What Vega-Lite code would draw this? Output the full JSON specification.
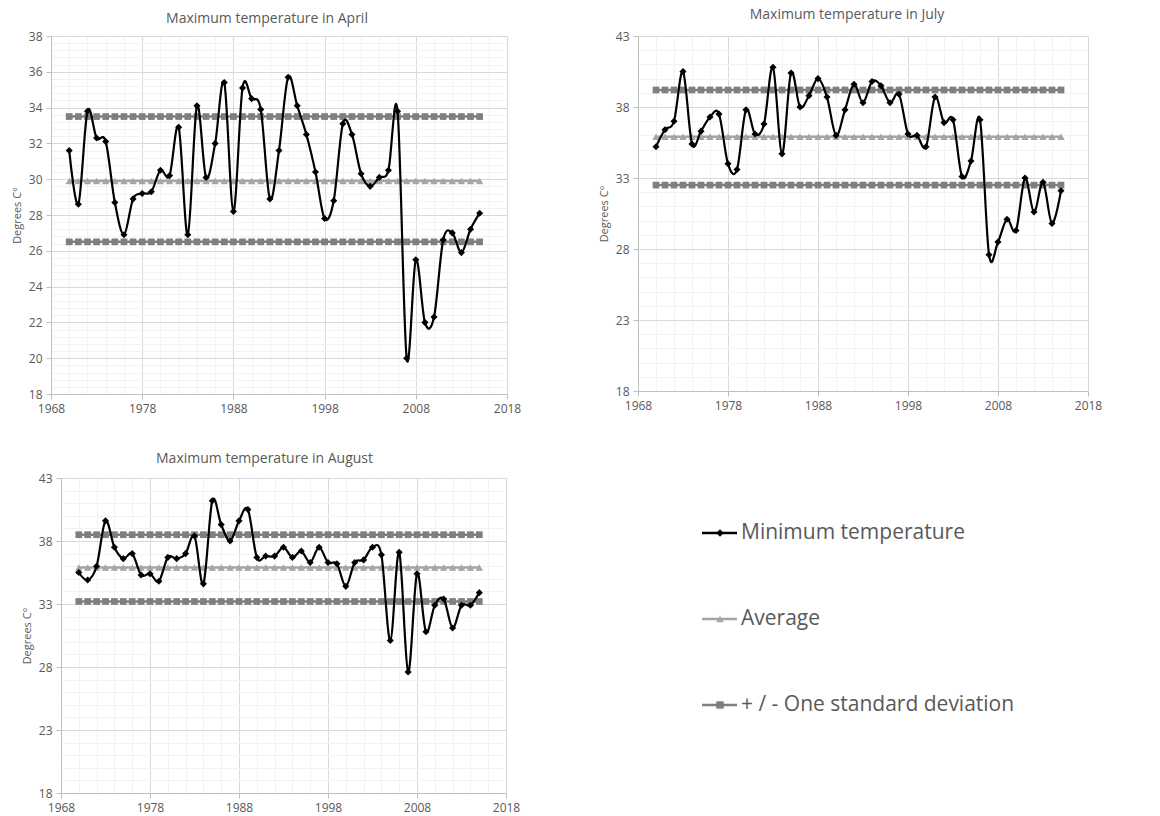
{
  "$schema": "https://vega.github.io/schema/vega-lite/v6.json",
  "background": "white",
  "padding": {"left": 11, "top": 8, "right": 5, "bottom": 4},
  "config": {
    "view": {"stroke": null},
    "font": "Open Sans",
    "title": {"font": "Open Sans", "fontSize": 14, "fontWeight": "normal", "color": "#595959", "anchor": "middle"},
    "axis": {
      "labelFont": "Open Sans", "labelFontSize": 12, "labelColor": "#595959",
      "titleFont": "Open Sans", "titleFontSize": 11, "titleFontWeight": "normal", "titleColor": "#595959",
      "domainColor": "#bfbfbf", "tickColor": "#bfbfbf", "tickSize": 5, "gridWidth": 1,
      "labelOverlap": false, "labelFlush": false, "labelPadding": 4
    }
  },
  "datasets": {
    "stats": [
      {"month": "April", "avg": 29.9, "hi": 33.5, "lo": 26.5},
      {"month": "July", "avg": 35.9, "hi": 39.2, "lo": 32.5},
      {"month": "August", "avg": 35.9, "hi": 38.5, "lo": 33.2}
    ],
    "temps": [
      {"month": "April", "year": 1970, "temp": 31.6}, {"month": "April", "year": 1971, "temp": 28.6},
      {"month": "April", "year": 1972, "temp": 33.8}, {"month": "April", "year": 1973, "temp": 32.3},
      {"month": "April", "year": 1974, "temp": 32.1}, {"month": "April", "year": 1975, "temp": 28.7},
      {"month": "April", "year": 1976, "temp": 26.9}, {"month": "April", "year": 1977, "temp": 28.9},
      {"month": "April", "year": 1978, "temp": 29.2}, {"month": "April", "year": 1979, "temp": 29.3},
      {"month": "April", "year": 1980, "temp": 30.5}, {"month": "April", "year": 1981, "temp": 30.2},
      {"month": "April", "year": 1982, "temp": 32.9}, {"month": "April", "year": 1983, "temp": 26.9},
      {"month": "April", "year": 1984, "temp": 34.1}, {"month": "April", "year": 1985, "temp": 30.1},
      {"month": "April", "year": 1986, "temp": 32.0}, {"month": "April", "year": 1987, "temp": 35.4},
      {"month": "April", "year": 1988, "temp": 28.2}, {"month": "April", "year": 1989, "temp": 35.1},
      {"month": "April", "year": 1990, "temp": 34.5}, {"month": "April", "year": 1991, "temp": 33.9},
      {"month": "April", "year": 1992, "temp": 28.9}, {"month": "April", "year": 1993, "temp": 31.6},
      {"month": "April", "year": 1994, "temp": 35.7}, {"month": "April", "year": 1995, "temp": 34.1},
      {"month": "April", "year": 1996, "temp": 32.5}, {"month": "April", "year": 1997, "temp": 30.4},
      {"month": "April", "year": 1998, "temp": 27.8}, {"month": "April", "year": 1999, "temp": 28.8},
      {"month": "April", "year": 2000, "temp": 33.1}, {"month": "April", "year": 2001, "temp": 32.5},
      {"month": "April", "year": 2002, "temp": 30.3}, {"month": "April", "year": 2003, "temp": 29.6},
      {"month": "April", "year": 2004, "temp": 30.1}, {"month": "April", "year": 2005, "temp": 30.5},
      {"month": "April", "year": 2006, "temp": 33.8}, {"month": "April", "year": 2007, "temp": 20.0},
      {"month": "April", "year": 2008, "temp": 25.5}, {"month": "April", "year": 2009, "temp": 22.0},
      {"month": "April", "year": 2010, "temp": 22.3}, {"month": "April", "year": 2011, "temp": 26.6},
      {"month": "April", "year": 2012, "temp": 27.0}, {"month": "April", "year": 2013, "temp": 25.9},
      {"month": "April", "year": 2014, "temp": 27.2}, {"month": "April", "year": 2015, "temp": 28.1},

      {"month": "July", "year": 1970, "temp": 35.2}, {"month": "July", "year": 1971, "temp": 36.4},
      {"month": "July", "year": 1972, "temp": 37.0}, {"month": "July", "year": 1973, "temp": 40.5},
      {"month": "July", "year": 1974, "temp": 35.4}, {"month": "July", "year": 1975, "temp": 36.3},
      {"month": "July", "year": 1976, "temp": 37.3}, {"month": "July", "year": 1977, "temp": 37.5},
      {"month": "July", "year": 1978, "temp": 34.0}, {"month": "July", "year": 1979, "temp": 33.6},
      {"month": "July", "year": 1980, "temp": 37.8}, {"month": "July", "year": 1981, "temp": 36.1},
      {"month": "July", "year": 1982, "temp": 36.8}, {"month": "July", "year": 1983, "temp": 40.8},
      {"month": "July", "year": 1984, "temp": 34.7}, {"month": "July", "year": 1985, "temp": 40.4},
      {"month": "July", "year": 1986, "temp": 38.0}, {"month": "July", "year": 1987, "temp": 38.8},
      {"month": "July", "year": 1988, "temp": 40.0}, {"month": "July", "year": 1989, "temp": 38.7},
      {"month": "July", "year": 1990, "temp": 36.0}, {"month": "July", "year": 1991, "temp": 37.8},
      {"month": "July", "year": 1992, "temp": 39.6}, {"month": "July", "year": 1993, "temp": 38.3},
      {"month": "July", "year": 1994, "temp": 39.8}, {"month": "July", "year": 1995, "temp": 39.5},
      {"month": "July", "year": 1996, "temp": 38.3}, {"month": "July", "year": 1997, "temp": 38.9},
      {"month": "July", "year": 1998, "temp": 36.1}, {"month": "July", "year": 1999, "temp": 36.0},
      {"month": "July", "year": 2000, "temp": 35.2}, {"month": "July", "year": 2001, "temp": 38.7},
      {"month": "July", "year": 2002, "temp": 36.9}, {"month": "July", "year": 2003, "temp": 37.1},
      {"month": "July", "year": 2004, "temp": 33.1}, {"month": "July", "year": 2005, "temp": 34.2},
      {"month": "July", "year": 2006, "temp": 37.1}, {"month": "July", "year": 2007, "temp": 27.6},
      {"month": "July", "year": 2008, "temp": 28.5}, {"month": "July", "year": 2009, "temp": 30.1},
      {"month": "July", "year": 2010, "temp": 29.3}, {"month": "July", "year": 2011, "temp": 33.0},
      {"month": "July", "year": 2012, "temp": 30.6}, {"month": "July", "year": 2013, "temp": 32.7},
      {"month": "July", "year": 2014, "temp": 29.8}, {"month": "July", "year": 2015, "temp": 32.1},

      {"month": "August", "year": 1970, "temp": 35.5}, {"month": "August", "year": 1971, "temp": 34.9},
      {"month": "August", "year": 1972, "temp": 36.0}, {"month": "August", "year": 1973, "temp": 39.6},
      {"month": "August", "year": 1974, "temp": 37.5}, {"month": "August", "year": 1975, "temp": 36.6},
      {"month": "August", "year": 1976, "temp": 37.0}, {"month": "August", "year": 1977, "temp": 35.3},
      {"month": "August", "year": 1978, "temp": 35.4}, {"month": "August", "year": 1979, "temp": 34.8},
      {"month": "August", "year": 1980, "temp": 36.7}, {"month": "August", "year": 1981, "temp": 36.6},
      {"month": "August", "year": 1982, "temp": 37.0}, {"month": "August", "year": 1983, "temp": 38.4},
      {"month": "August", "year": 1984, "temp": 34.6}, {"month": "August", "year": 1985, "temp": 41.2},
      {"month": "August", "year": 1986, "temp": 39.3}, {"month": "August", "year": 1987, "temp": 38.0},
      {"month": "August", "year": 1988, "temp": 39.6}, {"month": "August", "year": 1989, "temp": 40.5},
      {"month": "August", "year": 1990, "temp": 36.7}, {"month": "August", "year": 1991, "temp": 36.8},
      {"month": "August", "year": 1992, "temp": 36.8}, {"month": "August", "year": 1993, "temp": 37.5},
      {"month": "August", "year": 1994, "temp": 36.7}, {"month": "August", "year": 1995, "temp": 37.2},
      {"month": "August", "year": 1996, "temp": 36.3}, {"month": "August", "year": 1997, "temp": 37.5},
      {"month": "August", "year": 1998, "temp": 36.3}, {"month": "August", "year": 1999, "temp": 36.2},
      {"month": "August", "year": 2000, "temp": 34.4}, {"month": "August", "year": 2001, "temp": 36.3},
      {"month": "August", "year": 2002, "temp": 36.5}, {"month": "August", "year": 2003, "temp": 37.5},
      {"month": "August", "year": 2004, "temp": 36.9}, {"month": "August", "year": 2005, "temp": 30.1},
      {"month": "August", "year": 2006, "temp": 37.1}, {"month": "August", "year": 2007, "temp": 27.6},
      {"month": "August", "year": 2008, "temp": 35.4}, {"month": "August", "year": 2009, "temp": 30.8},
      {"month": "August", "year": 2010, "temp": 32.9}, {"month": "August", "year": 2011, "temp": 33.4},
      {"month": "August", "year": 2012, "temp": 31.1}, {"month": "August", "year": 2013, "temp": 32.9},
      {"month": "August", "year": 2014, "temp": 32.9}, {"month": "August", "year": 2015, "temp": 33.9}
    ]
  },
  "data": {"name": "temps"},
  "spacing": 38,
  "columns": 1,
  "align": "none",
  "concat": [
    {
      "spacing": 77,
      "hconcat": [
        {
          "width": 456, "height": 358,
          "title": {"text": "Maximum temperature in April", "offset": 4, "dx": -12},
          "transform": [
            {"filter": "datum.month === 'April'"},
            {"lookup": "month", "from": {"data": {"name": "stats"}, "key": "month", "fields": ["avg", "hi", "lo"]}},
            {"fold": ["temp", "avg", "hi", "lo"], "as": ["series", "value"]}
          ],
          "encoding": {
            "x": {
              "field": "year", "type": "quantitative",
              "scale": {"domain": [1968, 2018], "nice": false, "zero": false},
              "axis": {
                "title": null, "format": "d",
                "values": [1968, 1970, 1972, 1974, 1976, 1978, 1980, 1982, 1984, 1986, 1988, 1990, 1992, 1994, 1996, 1998, 2000, 2002, 2004, 2006, 2008, 2010, 2012, 2014, 2016, 2018],
                "labelExpr": "(datum.value - 1968) % 10 === 0 ? datum.label : ''",
                "gridColor": {"condition": {"test": "(datum.value - 1968) % 10 === 0", "value": "#d9d9d9"}, "value": "#f2f2f2"},
                "tickOpacity": {"condition": {"test": "(datum.value - 1968) % 10 === 0", "value": 1}, "value": 0}
              }
            },
            "y": {
              "field": "value", "type": "quantitative",
              "scale": {"domain": [18, 38], "nice": false, "zero": false},
              "axis": {
                "title": "Degrees C°", "titlePadding": 6, "format": ".0f",
                "values": [18, 18.4, 18.8, 19.2, 19.6, 20, 20.4, 20.8, 21.2, 21.6, 22, 22.4, 22.8, 23.2, 23.6, 24, 24.4, 24.8, 25.2, 25.6, 26, 26.4, 26.8, 27.2, 27.6, 28, 28.4, 28.8, 29.2, 29.6, 30, 30.4, 30.8, 31.2, 31.6, 32, 32.4, 32.8, 33.2, 33.6, 34, 34.4, 34.8, 35.2, 35.6, 36, 36.4, 36.8, 37.2, 37.6, 38],
                "labelExpr": "datum.value % 2 === 0 ? datum.label : ''",
                "gridColor": {"condition": {"test": "datum.value % 2 === 0", "value": "#d9d9d9"}, "value": "#f2f2f2"},
                "tickOpacity": {"condition": {"test": "datum.value % 2 === 0", "value": 1}, "value": 0}
              }
            }
          },
          "layer": [
            {"transform": [{"filter": "datum.series === 'avg'"}], "mark": {"type": "line", "color": "#a5a5a5", "strokeWidth": 2.5}},
            {"transform": [{"filter": "datum.series === 'avg'"}], "mark": {"type": "point", "shape": "triangle-up", "filled": true, "color": "#a5a5a5", "size": 55, "opacity": 1}},
            {"transform": [{"filter": "datum.series === 'hi' || datum.series === 'lo'"}], "mark": {"type": "line", "color": "#7f7f7f", "strokeWidth": 2.5}, "encoding": {"detail": {"field": "series"}}},
            {"transform": [{"filter": "datum.series === 'hi' || datum.series === 'lo'"}], "mark": {"type": "point", "shape": "square", "filled": true, "color": "#7f7f7f", "size": 45, "opacity": 1}},
            {"transform": [{"filter": "datum.series === 'temp'"}], "mark": {"type": "line", "color": "#000000", "strokeWidth": 2.2, "interpolate": "cardinal"}},
            {"transform": [{"filter": "datum.series === 'temp'"}], "mark": {"type": "point", "shape": "diamond", "filled": true, "color": "#000000", "size": 50, "opacity": 1}}
          ]
        },
        {
          "width": 450, "height": 355,
          "title": {"text": "Maximum temperature in July", "offset": 8, "dx": -16},
          "transform": [
            {"filter": "datum.month === 'July'"},
            {"lookup": "month", "from": {"data": {"name": "stats"}, "key": "month", "fields": ["avg", "hi", "lo"]}},
            {"fold": ["temp", "avg", "hi", "lo"], "as": ["series", "value"]}
          ],
          "encoding": {
            "x": {
              "field": "year", "type": "quantitative",
              "scale": {"domain": [1968, 2018], "nice": false, "zero": false},
              "axis": {
                "title": null, "format": "d",
                "values": [1968, 1970, 1972, 1974, 1976, 1978, 1980, 1982, 1984, 1986, 1988, 1990, 1992, 1994, 1996, 1998, 2000, 2002, 2004, 2006, 2008, 2010, 2012, 2014, 2016, 2018],
                "labelExpr": "(datum.value - 1968) % 10 === 0 ? datum.label : ''",
                "gridColor": {"condition": {"test": "(datum.value - 1968) % 10 === 0", "value": "#d9d9d9"}, "value": "#f2f2f2"},
                "tickOpacity": {"condition": {"test": "(datum.value - 1968) % 10 === 0", "value": 1}, "value": 0}
              }
            },
            "y": {
              "field": "value", "type": "quantitative",
              "scale": {"domain": [18, 43], "nice": false, "zero": false},
              "axis": {
                "title": "Degrees C°", "titlePadding": 6,
                "values": [18, 19, 20, 21, 22, 23, 24, 25, 26, 27, 28, 29, 30, 31, 32, 33, 34, 35, 36, 37, 38, 39, 40, 41, 42, 43],
                "labelExpr": "(datum.value - 18) % 5 === 0 ? datum.label : ''",
                "gridColor": {"condition": {"test": "(datum.value - 18) % 5 === 0", "value": "#d9d9d9"}, "value": "#f2f2f2"},
                "tickOpacity": {"condition": {"test": "(datum.value - 18) % 5 === 0", "value": 1}, "value": 0}
              }
            }
          },
          "layer": [
            {"transform": [{"filter": "datum.series === 'avg'"}], "mark": {"type": "line", "color": "#a5a5a5", "strokeWidth": 2.5}},
            {"transform": [{"filter": "datum.series === 'avg'"}], "mark": {"type": "point", "shape": "triangle-up", "filled": true, "color": "#a5a5a5", "size": 55, "opacity": 1}},
            {"transform": [{"filter": "datum.series === 'hi' || datum.series === 'lo'"}], "mark": {"type": "line", "color": "#7f7f7f", "strokeWidth": 2.5}, "encoding": {"detail": {"field": "series"}}},
            {"transform": [{"filter": "datum.series === 'hi' || datum.series === 'lo'"}], "mark": {"type": "point", "shape": "square", "filled": true, "color": "#7f7f7f", "size": 45, "opacity": 1}},
            {"transform": [{"filter": "datum.series === 'temp'"}], "mark": {"type": "line", "color": "#000000", "strokeWidth": 2.2, "interpolate": "cardinal"}},
            {"transform": [{"filter": "datum.series === 'temp'"}], "mark": {"type": "point", "shape": "diamond", "filled": true, "color": "#000000", "size": 50, "opacity": 1}}
          ]
        }
      ]
    },
    {
      "spacing": 20,
      "hconcat": [
        {
          "width": 455, "height": 315,
          "title": {"text": "Maximum temperature in August", "offset": 6, "dx": -14},
          "transform": [
            {"filter": "datum.month === 'August'"},
            {"lookup": "month", "from": {"data": {"name": "stats"}, "key": "month", "fields": ["avg", "hi", "lo"]}},
            {"fold": ["temp", "avg", "hi", "lo"], "as": ["series", "value"]}
          ],
          "encoding": {
            "x": {
              "field": "year", "type": "quantitative",
              "scale": {"domain": [1968, 2018], "range": [10, 455], "nice": false, "zero": false},
              "axis": {
                "title": null, "format": "d",
                "values": [1968, 1970, 1972, 1974, 1976, 1978, 1980, 1982, 1984, 1986, 1988, 1990, 1992, 1994, 1996, 1998, 2000, 2002, 2004, 2006, 2008, 2010, 2012, 2014, 2016, 2018],
                "labelExpr": "(datum.value - 1968) % 10 === 0 ? datum.label : ''",
                "gridColor": {"condition": {"test": "(datum.value - 1968) % 10 === 0", "value": "#d9d9d9"}, "value": "#f2f2f2"},
                "tickOpacity": {"condition": {"test": "(datum.value - 1968) % 10 === 0", "value": 1}, "value": 0}
              }
            },
            "y": {
              "field": "value", "type": "quantitative",
              "scale": {"domain": [18, 43], "nice": false, "zero": false},
              "axis": {
                "title": "Degrees C°", "titlePadding": 6, "offset": -10,
                "values": [18, 19, 20, 21, 22, 23, 24, 25, 26, 27, 28, 29, 30, 31, 32, 33, 34, 35, 36, 37, 38, 39, 40, 41, 42, 43],
                "labelExpr": "(datum.value - 18) % 5 === 0 ? datum.label : ''",
                "gridColor": {"condition": {"test": "(datum.value - 18) % 5 === 0", "value": "#d9d9d9"}, "value": "#f2f2f2"},
                "tickOpacity": {"condition": {"test": "(datum.value - 18) % 5 === 0", "value": 1}, "value": 0}
              }
            }
          },
          "layer": [
            {"transform": [{"filter": "datum.series === 'avg'"}], "mark": {"type": "line", "color": "#a5a5a5", "strokeWidth": 2.5}},
            {"transform": [{"filter": "datum.series === 'avg'"}], "mark": {"type": "point", "shape": "triangle-up", "filled": true, "color": "#a5a5a5", "size": 55, "opacity": 1}},
            {"transform": [{"filter": "datum.series === 'hi' || datum.series === 'lo'"}], "mark": {"type": "line", "color": "#7f7f7f", "strokeWidth": 2.5}, "encoding": {"detail": {"field": "series"}}},
            {"transform": [{"filter": "datum.series === 'hi' || datum.series === 'lo'"}], "mark": {"type": "point", "shape": "square", "filled": true, "color": "#7f7f7f", "size": 45, "opacity": 1}},
            {"transform": [{"filter": "datum.series === 'temp'"}], "mark": {"type": "line", "color": "#000000", "strokeWidth": 2.2, "interpolate": "cardinal"}},
            {"transform": [{"filter": "datum.series === 'temp'"}], "mark": {"type": "point", "shape": "diamond", "filled": true, "color": "#000000", "size": 50, "opacity": 1}}
          ]
        },
        {
          "width": 480, "height": 282,
          "data": {"values": [
            {"label": "Minimum temperature", "k": 1},
            {"label": "Average", "k": 2},
            {"label": "+ / - One standard deviation", "k": 3}
          ]},
          "encoding": {
            "y": {"field": "label", "type": "nominal", "sort": ["Minimum temperature", "Average", "+ / - One standard deviation"], "scale": {"type": "point", "padding": 0.64}, "axis": null}
          },
          "layer": [
            {
              "mark": {"type": "rule", "strokeWidth": 2.5},
              "encoding": {
                "x": {"datum": 162, "type": "quantitative", "scale": {"domain": [0, 480], "nice": false, "zero": false}, "axis": null},
                "x2": {"datum": 197},
                "color": {"field": "label", "type": "nominal", "scale": {"domain": ["Minimum temperature", "Average", "+ / - One standard deviation"], "range": ["#000000", "#a5a5a5", "#7f7f7f"]}, "legend": null}
              }
            },
            {
              "mark": {"type": "point", "filled": true, "size": 55, "opacity": 1},
              "encoding": {
                "x": {"datum": 180, "type": "quantitative"},
                "color": {"field": "label", "type": "nominal", "legend": null},
                "shape": {"field": "label", "type": "nominal", "scale": {"domain": ["Minimum temperature", "Average", "+ / - One standard deviation"], "range": ["diamond", "triangle-up", "square"]}, "legend": null}
              }
            },
            {
              "mark": {"type": "text", "align": "left", "baseline": "middle", "font": "Open Sans", "fontSize": 21, "color": "#595959"},
              "encoding": {
                "x": {"datum": 201, "type": "quantitative"},
                "text": {"field": "label"}
              }
            }
          ]
        }
      ]
    }
  ]
}
